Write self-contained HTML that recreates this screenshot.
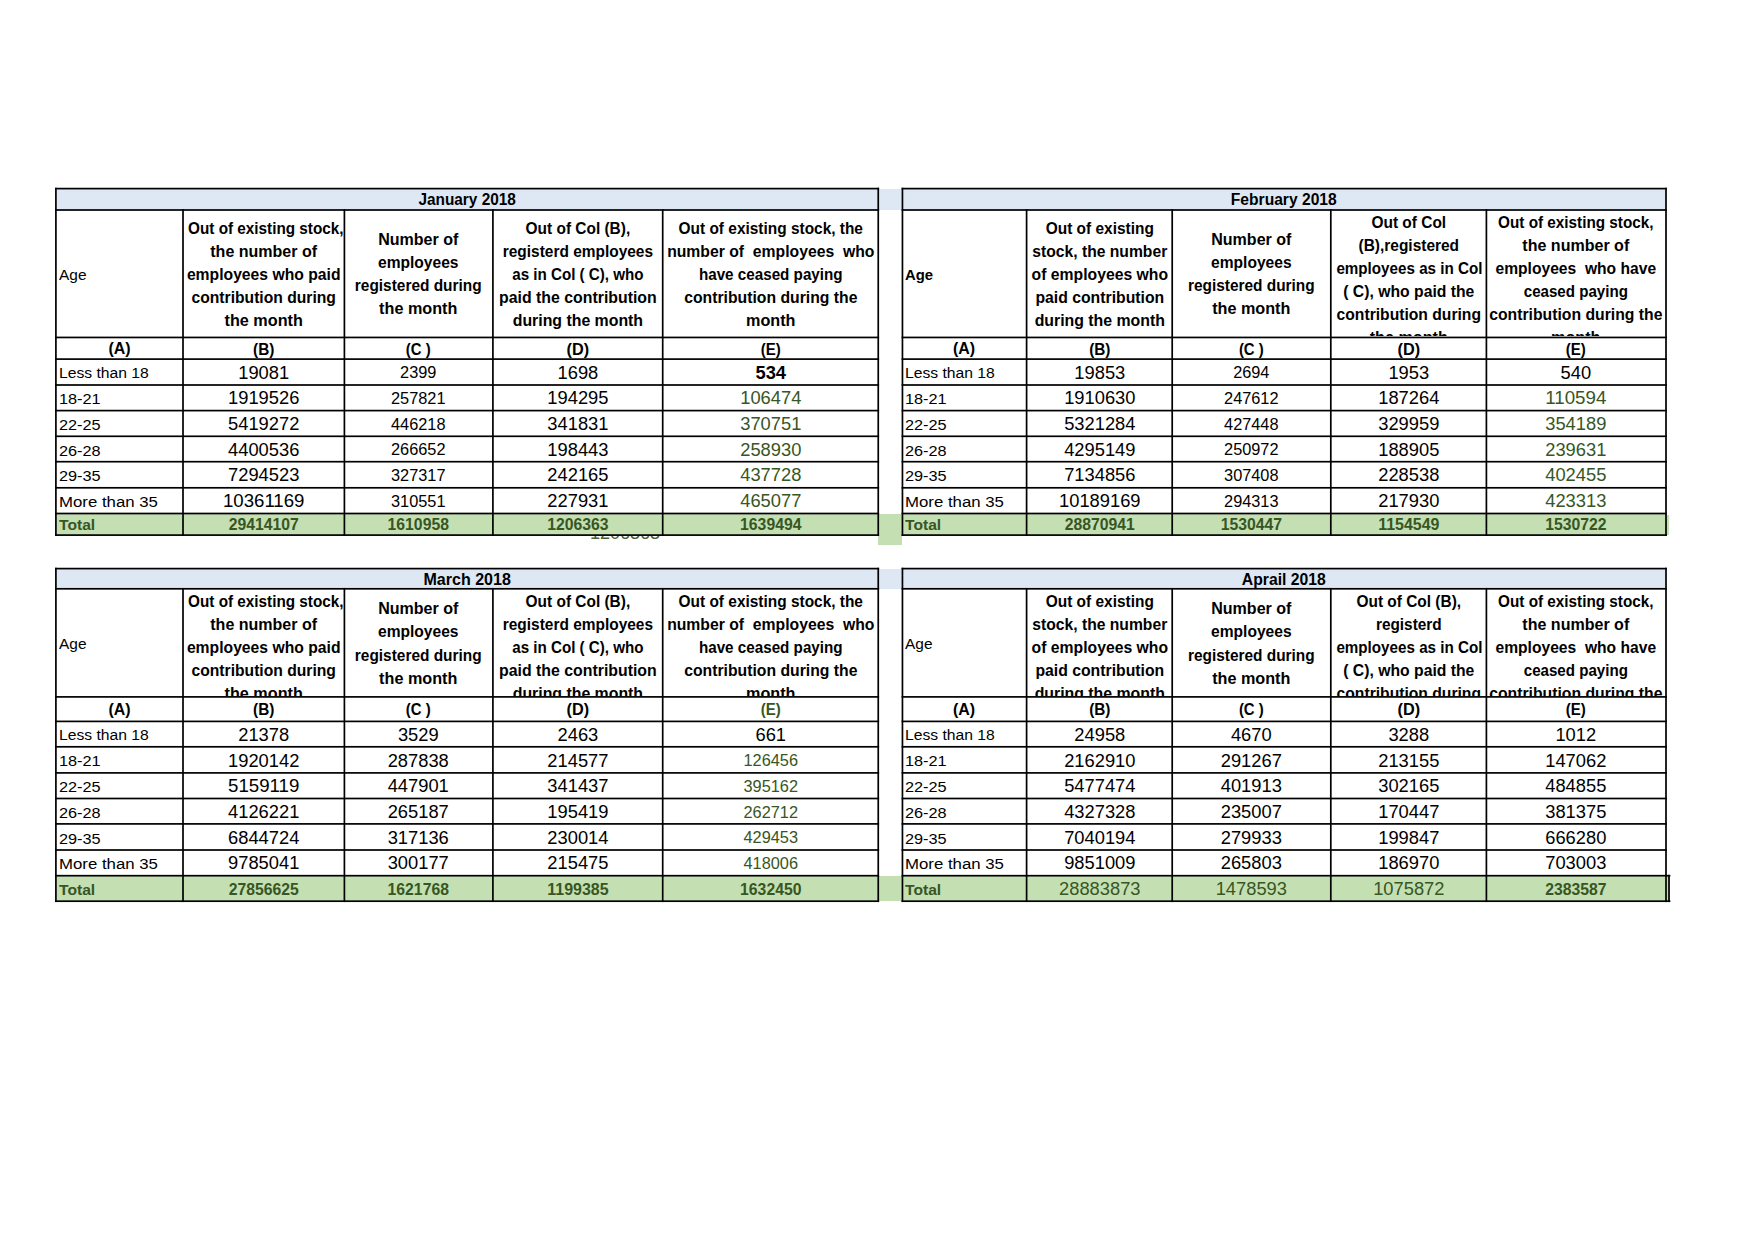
<!DOCTYPE html>
<html><head><meta charset="utf-8"><title>EPF payroll data 2018</title>
<style>
html,body{margin:0;padding:0;background:#fff;}
body{width:1755px;height:1240px;position:relative;overflow:hidden;font-family:"Liberation Sans", Arial, sans-serif;}
.r{position:absolute;}
.t{position:absolute;white-space:nowrap;text-align:center;}
.c{position:absolute;overflow:hidden;z-index:3;}
.g{position:absolute;left:0;top:0;z-index:5;fill:#000;}
</style></head>
<body>
<div class="r" style="left:55.90px;top:188.60px;width:822.35px;height:21.40px;background:#dde8f4;z-index:1"></div>
<div class="r" style="left:55.90px;top:513.50px;width:822.35px;height:21.60px;background:#c4dfb2;z-index:1"></div>
<div class="t" style="left:55.90px;width:822.35px;top:189.00px;font-size:16.02px;font-weight:700;color:#000;line-height:20px;z-index:3;transform:scaleX(0.960);">January 2018</div>
<div class="t" style="left:58.90px;text-align:left;top:265.00px;font-size:15.4px;font-weight:400;color:#000;line-height:20px;z-index:3;transform:scaleX(1.003);transform-origin:0 0;">Age</div>
<div class="c" style="left:184.00px;top:211px;width:159.40px;height:125.45px"><div class="t" style="left:0;width:159.40px;top:7.00px;font-size:16.11px;font-weight:700;color:#000;line-height:20px;transform:scaleX(0.949)">Out of existing stock,</div><div class="t" style="left:0;width:159.40px;top:30.00px;font-size:16.11px;font-weight:700;color:#000;line-height:20px;transform:scaleX(0.995)">the number of</div><div class="t" style="left:0;width:159.40px;top:53.00px;font-size:16.11px;font-weight:700;color:#000;line-height:20px;transform:scaleX(0.975)">employees who paid</div><div class="t" style="left:0;width:159.40px;top:76.00px;font-size:16.11px;font-weight:700;color:#000;line-height:20px;transform:scaleX(0.972)">contribution during</div><div class="t" style="left:0;width:159.40px;top:99.00px;font-size:16.11px;font-weight:700;color:#000;line-height:20px;transform:scaleX(1.005)">the month</div></div>
<div class="c" style="left:345.40px;top:211px;width:146.50px;height:125.45px"><div class="t" style="left:0;width:146.50px;top:18.00px;font-size:16.11px;font-weight:700;color:#000;line-height:20px;transform:scaleX(0.996)">Number of</div><div class="t" style="left:0;width:146.50px;top:41.00px;font-size:16.11px;font-weight:700;color:#000;line-height:20px;transform:scaleX(0.967)">employees</div><div class="t" style="left:0;width:146.50px;top:64.00px;font-size:16.11px;font-weight:700;color:#000;line-height:20px;transform:scaleX(0.957)">registered during</div><div class="t" style="left:0;width:146.50px;top:87.00px;font-size:16.11px;font-weight:700;color:#000;line-height:20px;transform:scaleX(1.005)">the month</div></div>
<div class="c" style="left:493.90px;top:211px;width:167.80px;height:125.45px"><div class="t" style="left:0;width:167.80px;top:7.00px;font-size:16.11px;font-weight:700;color:#000;line-height:20px;transform:scaleX(0.958)">Out of Col (B),</div><div class="t" style="left:0;width:167.80px;top:30.00px;font-size:16.11px;font-weight:700;color:#000;line-height:20px;transform:scaleX(0.959)">registerd employees</div><div class="t" style="left:0;width:167.80px;top:53.00px;font-size:16.11px;font-weight:700;color:#000;line-height:20px;transform:scaleX(0.941)">as in Col ( C), who</div><div class="t" style="left:0;width:167.80px;top:76.00px;font-size:16.11px;font-weight:700;color:#000;line-height:20px;transform:scaleX(0.984)">paid the contribution</div><div class="t" style="left:0;width:167.80px;top:99.00px;font-size:16.11px;font-weight:700;color:#000;line-height:20px;transform:scaleX(0.984)">during the month</div></div>
<div class="c" style="left:663.70px;top:211px;width:213.55px;height:125.45px"><div class="t" style="left:0;width:213.55px;top:7.00px;font-size:16.11px;font-weight:700;color:#000;line-height:20px;transform:scaleX(0.958)">Out of existing stock, the</div><div class="t" style="left:0;width:213.55px;top:30.00px;font-size:16.11px;font-weight:700;color:#000;line-height:20px;transform:scaleX(0.977)">number of&nbsp; employees&nbsp; who</div><div class="t" style="left:0;width:213.55px;top:53.00px;font-size:16.11px;font-weight:700;color:#000;line-height:20px;transform:scaleX(0.944)">have ceased paying</div><div class="t" style="left:0;width:213.55px;top:76.00px;font-size:16.11px;font-weight:700;color:#000;line-height:20px;transform:scaleX(0.978)">contribution during the</div><div class="t" style="left:0;width:213.55px;top:99.00px;font-size:16.11px;font-weight:700;color:#000;line-height:20px;transform:scaleX(1.004)">month</div></div>
<div class="t" style="left:55.90px;width:127.10px;top:339.00px;font-size:15.6px;font-weight:700;color:#000;line-height:20px;z-index:3;transform:scaleX(1.022);">(A)</div>
<div class="t" style="left:183.00px;width:161.40px;top:340.00px;font-size:15.6px;font-weight:700;color:#000;line-height:20px;z-index:3;transform:scaleX(0.984);">(B)</div>
<div class="t" style="left:344.40px;width:148.50px;top:340.00px;font-size:15.6px;font-weight:700;color:#000;line-height:20px;z-index:3;transform:scaleX(0.955);">(C )</div>
<div class="t" style="left:492.90px;width:169.80px;top:340.00px;font-size:15.6px;font-weight:700;color:#000;line-height:20px;z-index:3;transform:scaleX(1.042);">(D)</div>
<div class="t" style="left:662.70px;width:215.55px;top:340.00px;font-size:15.6px;font-weight:700;color:#000;line-height:20px;z-index:3;transform:scaleX(0.962);">(E)</div>
<div class="t" style="left:58.90px;text-align:left;top:363.00px;font-size:15.4px;font-weight:400;color:#000;line-height:20px;z-index:3;transform:scaleX(1.019);transform-origin:0 0;">Less than 18</div>
<div class="t" style="left:183.00px;width:161.40px;top:363.00px;font-size:18.09px;font-weight:400;color:#000;line-height:20px;z-index:3;transform:scaleX(1.013);">19081</div>
<div class="t" style="left:344.40px;width:148.50px;top:363.00px;font-size:15.9px;font-weight:400;color:#000;line-height:20px;z-index:3;transform:scaleX(1.027);">2399</div>
<div class="t" style="left:492.90px;width:169.80px;top:363.00px;font-size:18.09px;font-weight:400;color:#000;line-height:20px;z-index:3;transform:scaleX(1.013);">1698</div>
<div class="t" style="left:662.70px;width:215.55px;top:363.00px;font-size:18.09px;font-weight:700;color:#000;line-height:20px;z-index:3;transform:scaleX(1.013);">534</div>
<div class="t" style="left:58.90px;text-align:left;top:389.00px;font-size:15.4px;font-weight:400;color:#000;line-height:20px;z-index:3;transform:scaleX(1.058);transform-origin:0 0;">18-21</div>
<div class="t" style="left:183.00px;width:161.40px;top:388.00px;font-size:18.09px;font-weight:400;color:#000;line-height:20px;z-index:3;transform:scaleX(1.013);">1919526</div>
<div class="t" style="left:344.40px;width:148.50px;top:389.00px;font-size:15.9px;font-weight:400;color:#000;line-height:20px;z-index:3;transform:scaleX(1.027);">257821</div>
<div class="t" style="left:492.90px;width:169.80px;top:388.00px;font-size:18.09px;font-weight:400;color:#000;line-height:20px;z-index:3;transform:scaleX(1.013);">194295</div>
<div class="t" style="left:662.70px;width:215.55px;top:388.00px;font-size:18.09px;font-weight:400;color:#375623;line-height:20px;z-index:3;transform:scaleX(1.013);">106474</div>
<div class="t" style="left:58.90px;text-align:left;top:415.00px;font-size:15.4px;font-weight:400;color:#000;line-height:20px;z-index:3;transform:scaleX(1.058);transform-origin:0 0;">22-25</div>
<div class="t" style="left:183.00px;width:161.40px;top:414.00px;font-size:18.09px;font-weight:400;color:#000;line-height:20px;z-index:3;transform:scaleX(1.013);">5419272</div>
<div class="t" style="left:344.40px;width:148.50px;top:415.00px;font-size:15.9px;font-weight:400;color:#000;line-height:20px;z-index:3;transform:scaleX(1.027);">446218</div>
<div class="t" style="left:492.90px;width:169.80px;top:414.00px;font-size:18.09px;font-weight:400;color:#000;line-height:20px;z-index:3;transform:scaleX(1.013);">341831</div>
<div class="t" style="left:662.70px;width:215.55px;top:414.00px;font-size:18.09px;font-weight:400;color:#375623;line-height:20px;z-index:3;transform:scaleX(1.013);">370751</div>
<div class="t" style="left:58.90px;text-align:left;top:441.00px;font-size:15.4px;font-weight:400;color:#000;line-height:20px;z-index:3;transform:scaleX(1.058);transform-origin:0 0;">26-28</div>
<div class="t" style="left:183.00px;width:161.40px;top:440.00px;font-size:18.09px;font-weight:400;color:#000;line-height:20px;z-index:3;transform:scaleX(1.013);">4400536</div>
<div class="t" style="left:344.40px;width:148.50px;top:440.00px;font-size:15.9px;font-weight:400;color:#000;line-height:20px;z-index:3;transform:scaleX(1.027);">266652</div>
<div class="t" style="left:492.90px;width:169.80px;top:440.00px;font-size:18.09px;font-weight:400;color:#000;line-height:20px;z-index:3;transform:scaleX(1.013);">198443</div>
<div class="t" style="left:662.70px;width:215.55px;top:440.00px;font-size:18.09px;font-weight:400;color:#375623;line-height:20px;z-index:3;transform:scaleX(1.013);">258930</div>
<div class="t" style="left:58.90px;text-align:left;top:466.00px;font-size:15.4px;font-weight:400;color:#000;line-height:20px;z-index:3;transform:scaleX(1.058);transform-origin:0 0;">29-35</div>
<div class="t" style="left:183.00px;width:161.40px;top:465.00px;font-size:18.09px;font-weight:400;color:#000;line-height:20px;z-index:3;transform:scaleX(1.013);">7294523</div>
<div class="t" style="left:344.40px;width:148.50px;top:466.00px;font-size:15.9px;font-weight:400;color:#000;line-height:20px;z-index:3;transform:scaleX(1.027);">327317</div>
<div class="t" style="left:492.90px;width:169.80px;top:465.00px;font-size:18.09px;font-weight:400;color:#000;line-height:20px;z-index:3;transform:scaleX(1.013);">242165</div>
<div class="t" style="left:662.70px;width:215.55px;top:465.00px;font-size:18.09px;font-weight:400;color:#375623;line-height:20px;z-index:3;transform:scaleX(1.013);">437728</div>
<div class="t" style="left:58.90px;text-align:left;top:492.00px;font-size:15.4px;font-weight:400;color:#000;line-height:20px;z-index:3;transform:scaleX(1.091);transform-origin:0 0;">More than 35</div>
<div class="t" style="left:183.00px;width:161.40px;top:491.00px;font-size:18.09px;font-weight:400;color:#000;line-height:20px;z-index:3;transform:scaleX(1.030);">10361169</div>
<div class="t" style="left:344.40px;width:148.50px;top:492.00px;font-size:15.9px;font-weight:400;color:#000;line-height:20px;z-index:3;transform:scaleX(1.027);">310551</div>
<div class="t" style="left:492.90px;width:169.80px;top:491.00px;font-size:18.09px;font-weight:400;color:#000;line-height:20px;z-index:3;transform:scaleX(1.013);">227931</div>
<div class="t" style="left:662.70px;width:215.55px;top:491.00px;font-size:18.09px;font-weight:400;color:#375623;line-height:20px;z-index:3;transform:scaleX(1.013);">465077</div>
<div class="t" style="left:58.90px;text-align:left;top:515.00px;font-size:15.2px;font-weight:700;color:#375623;line-height:20px;z-index:3;transform:scaleX(1.030);transform-origin:0 0;">Total</div>
<div class="t" style="left:183.00px;width:161.40px;top:515.00px;font-size:15.57px;font-weight:700;color:#375623;line-height:20px;z-index:3;transform:scaleX(1.012);">29414107</div>
<div class="t" style="left:344.40px;width:148.50px;top:515.00px;font-size:15.57px;font-weight:700;color:#375623;line-height:20px;z-index:3;transform:scaleX(1.012);">1610958</div>
<div class="t" style="left:492.90px;width:169.80px;top:515.00px;font-size:15.57px;font-weight:700;color:#375623;line-height:20px;z-index:3;transform:scaleX(1.012);">1206363</div>
<div class="t" style="left:662.70px;width:215.55px;top:515.00px;font-size:15.57px;font-weight:700;color:#375623;line-height:20px;z-index:3;transform:scaleX(1.012);">1639494</div>
<div class="r" style="left:902.45px;top:188.60px;width:763.55px;height:21.40px;background:#dde8f4;z-index:1"></div>
<div class="r" style="left:902.45px;top:513.50px;width:763.55px;height:21.60px;background:#c4dfb2;z-index:1"></div>
<div class="t" style="left:902.45px;width:763.55px;top:189.00px;font-size:16.02px;font-weight:700;color:#000;line-height:20px;z-index:3;transform:scaleX(0.975);">February 2018</div>
<div class="t" style="left:905.45px;text-align:left;top:265.00px;font-size:15.4px;font-weight:700;color:#000;line-height:20px;z-index:3;transform:scaleX(0.966);transform-origin:0 0;">Age</div>
<div class="c" style="left:1027.60px;top:211px;width:143.60px;height:125.45px"><div class="t" style="left:0;width:143.60px;top:7.00px;font-size:16.11px;font-weight:700;color:#000;line-height:20px;transform:scaleX(0.959)">Out of existing</div><div class="t" style="left:0;width:143.60px;top:30.00px;font-size:16.11px;font-weight:700;color:#000;line-height:20px;transform:scaleX(0.972)">stock, the number</div><div class="t" style="left:0;width:143.60px;top:53.00px;font-size:16.11px;font-weight:700;color:#000;line-height:20px;transform:scaleX(0.977)">of employees who</div><div class="t" style="left:0;width:143.60px;top:76.00px;font-size:16.11px;font-weight:700;color:#000;line-height:20px;transform:scaleX(0.979)">paid contribution</div><div class="t" style="left:0;width:143.60px;top:99.00px;font-size:16.11px;font-weight:700;color:#000;line-height:20px;transform:scaleX(0.984)">during the month</div></div>
<div class="c" style="left:1173.20px;top:211px;width:156.60px;height:125.45px"><div class="t" style="left:0;width:156.60px;top:18.00px;font-size:16.11px;font-weight:700;color:#000;line-height:20px;transform:scaleX(0.996)">Number of</div><div class="t" style="left:0;width:156.60px;top:41.00px;font-size:16.11px;font-weight:700;color:#000;line-height:20px;transform:scaleX(0.967)">employees</div><div class="t" style="left:0;width:156.60px;top:64.00px;font-size:16.11px;font-weight:700;color:#000;line-height:20px;transform:scaleX(0.957)">registered during</div><div class="t" style="left:0;width:156.60px;top:87.00px;font-size:16.11px;font-weight:700;color:#000;line-height:20px;transform:scaleX(1.005)">the month</div></div>
<div class="c" style="left:1331.80px;top:211px;width:153.60px;height:125.45px"><div class="t" style="left:0;width:153.60px;top:1.00px;font-size:16.11px;font-weight:700;color:#000;line-height:20px;transform:scaleX(0.960)">Out of Col</div><div class="t" style="left:0;width:153.60px;top:24.00px;font-size:16.11px;font-weight:700;color:#000;line-height:20px;transform:scaleX(0.960)">(B),registered</div><div class="t" style="left:0;width:153.60px;top:47.00px;font-size:16.11px;font-weight:700;color:#000;line-height:20px;transform:scaleX(0.943)">employees as in Col</div><div class="t" style="left:0;width:153.60px;top:70.00px;font-size:16.11px;font-weight:700;color:#000;line-height:20px;transform:scaleX(0.977)">( C), who paid the</div><div class="t" style="left:0;width:153.60px;top:93.00px;font-size:16.11px;font-weight:700;color:#000;line-height:20px;transform:scaleX(0.972)">contribution during</div><div class="t" style="left:0;width:153.60px;top:116.00px;font-size:16.11px;font-weight:700;color:#000;line-height:20px;transform:scaleX(1.005)">the month</div></div>
<div class="c" style="left:1487.40px;top:211px;width:177.60px;height:125.45px"><div class="t" style="left:0;width:177.60px;top:1.00px;font-size:16.11px;font-weight:700;color:#000;line-height:20px;transform:scaleX(0.949)">Out of existing stock,</div><div class="t" style="left:0;width:177.60px;top:24.00px;font-size:16.11px;font-weight:700;color:#000;line-height:20px;transform:scaleX(0.995)">the number of</div><div class="t" style="left:0;width:177.60px;top:47.00px;font-size:16.11px;font-weight:700;color:#000;line-height:20px;transform:scaleX(0.970)">employees&nbsp; who have</div><div class="t" style="left:0;width:177.60px;top:70.00px;font-size:16.11px;font-weight:700;color:#000;line-height:20px;transform:scaleX(0.938)">ceased paying</div><div class="t" style="left:0;width:177.60px;top:93.00px;font-size:16.11px;font-weight:700;color:#000;line-height:20px;transform:scaleX(0.978)">contribution during the</div><div class="t" style="left:0;width:177.60px;top:116.00px;font-size:16.11px;font-weight:700;color:#000;line-height:20px;transform:scaleX(1.004)">month</div></div>
<div class="t" style="left:902.45px;width:124.15px;top:339.00px;font-size:15.6px;font-weight:700;color:#000;line-height:20px;z-index:3;transform:scaleX(1.022);">(A)</div>
<div class="t" style="left:1026.60px;width:145.60px;top:340.00px;font-size:15.6px;font-weight:700;color:#000;line-height:20px;z-index:3;transform:scaleX(0.984);">(B)</div>
<div class="t" style="left:1172.20px;width:158.60px;top:340.00px;font-size:15.6px;font-weight:700;color:#000;line-height:20px;z-index:3;transform:scaleX(0.955);">(C )</div>
<div class="t" style="left:1330.80px;width:155.60px;top:340.00px;font-size:15.6px;font-weight:700;color:#000;line-height:20px;z-index:3;transform:scaleX(1.042);">(D)</div>
<div class="t" style="left:1486.40px;width:179.60px;top:340.00px;font-size:15.6px;font-weight:700;color:#000;line-height:20px;z-index:3;transform:scaleX(0.962);">(E)</div>
<div class="t" style="left:905.45px;text-align:left;top:363.00px;font-size:15.4px;font-weight:400;color:#000;line-height:20px;z-index:3;transform:scaleX(1.019);transform-origin:0 0;">Less than 18</div>
<div class="t" style="left:1026.60px;width:145.60px;top:363.00px;font-size:18.09px;font-weight:400;color:#000;line-height:20px;z-index:3;transform:scaleX(1.013);">19853</div>
<div class="t" style="left:1172.20px;width:158.60px;top:363.00px;font-size:15.9px;font-weight:400;color:#000;line-height:20px;z-index:3;transform:scaleX(1.027);">2694</div>
<div class="t" style="left:1330.80px;width:155.60px;top:363.00px;font-size:18.09px;font-weight:400;color:#000;line-height:20px;z-index:3;transform:scaleX(1.013);">1953</div>
<div class="t" style="left:1486.40px;width:179.60px;top:363.00px;font-size:18.09px;font-weight:400;color:#000;line-height:20px;z-index:3;transform:scaleX(1.013);">540</div>
<div class="t" style="left:905.45px;text-align:left;top:389.00px;font-size:15.4px;font-weight:400;color:#000;line-height:20px;z-index:3;transform:scaleX(1.058);transform-origin:0 0;">18-21</div>
<div class="t" style="left:1026.60px;width:145.60px;top:388.00px;font-size:18.09px;font-weight:400;color:#000;line-height:20px;z-index:3;transform:scaleX(1.013);">1910630</div>
<div class="t" style="left:1172.20px;width:158.60px;top:389.00px;font-size:15.9px;font-weight:400;color:#000;line-height:20px;z-index:3;transform:scaleX(1.027);">247612</div>
<div class="t" style="left:1330.80px;width:155.60px;top:388.00px;font-size:18.09px;font-weight:400;color:#000;line-height:20px;z-index:3;transform:scaleX(1.013);">187264</div>
<div class="t" style="left:1486.40px;width:179.60px;top:388.00px;font-size:18.09px;font-weight:400;color:#375623;line-height:20px;z-index:3;transform:scaleX(1.036);">110594</div>
<div class="t" style="left:905.45px;text-align:left;top:415.00px;font-size:15.4px;font-weight:400;color:#000;line-height:20px;z-index:3;transform:scaleX(1.058);transform-origin:0 0;">22-25</div>
<div class="t" style="left:1026.60px;width:145.60px;top:414.00px;font-size:18.09px;font-weight:400;color:#000;line-height:20px;z-index:3;transform:scaleX(1.013);">5321284</div>
<div class="t" style="left:1172.20px;width:158.60px;top:415.00px;font-size:15.9px;font-weight:400;color:#000;line-height:20px;z-index:3;transform:scaleX(1.027);">427448</div>
<div class="t" style="left:1330.80px;width:155.60px;top:414.00px;font-size:18.09px;font-weight:400;color:#000;line-height:20px;z-index:3;transform:scaleX(1.013);">329959</div>
<div class="t" style="left:1486.40px;width:179.60px;top:414.00px;font-size:18.09px;font-weight:400;color:#375623;line-height:20px;z-index:3;transform:scaleX(1.013);">354189</div>
<div class="t" style="left:905.45px;text-align:left;top:441.00px;font-size:15.4px;font-weight:400;color:#000;line-height:20px;z-index:3;transform:scaleX(1.058);transform-origin:0 0;">26-28</div>
<div class="t" style="left:1026.60px;width:145.60px;top:440.00px;font-size:18.09px;font-weight:400;color:#000;line-height:20px;z-index:3;transform:scaleX(1.013);">4295149</div>
<div class="t" style="left:1172.20px;width:158.60px;top:440.00px;font-size:15.9px;font-weight:400;color:#000;line-height:20px;z-index:3;transform:scaleX(1.027);">250972</div>
<div class="t" style="left:1330.80px;width:155.60px;top:440.00px;font-size:18.09px;font-weight:400;color:#000;line-height:20px;z-index:3;transform:scaleX(1.013);">188905</div>
<div class="t" style="left:1486.40px;width:179.60px;top:440.00px;font-size:18.09px;font-weight:400;color:#375623;line-height:20px;z-index:3;transform:scaleX(1.013);">239631</div>
<div class="t" style="left:905.45px;text-align:left;top:466.00px;font-size:15.4px;font-weight:400;color:#000;line-height:20px;z-index:3;transform:scaleX(1.058);transform-origin:0 0;">29-35</div>
<div class="t" style="left:1026.60px;width:145.60px;top:465.00px;font-size:18.09px;font-weight:400;color:#000;line-height:20px;z-index:3;transform:scaleX(1.013);">7134856</div>
<div class="t" style="left:1172.20px;width:158.60px;top:466.00px;font-size:15.9px;font-weight:400;color:#000;line-height:20px;z-index:3;transform:scaleX(1.027);">307408</div>
<div class="t" style="left:1330.80px;width:155.60px;top:465.00px;font-size:18.09px;font-weight:400;color:#000;line-height:20px;z-index:3;transform:scaleX(1.013);">228538</div>
<div class="t" style="left:1486.40px;width:179.60px;top:465.00px;font-size:18.09px;font-weight:400;color:#375623;line-height:20px;z-index:3;transform:scaleX(1.013);">402455</div>
<div class="t" style="left:905.45px;text-align:left;top:492.00px;font-size:15.4px;font-weight:400;color:#000;line-height:20px;z-index:3;transform:scaleX(1.091);transform-origin:0 0;">More than 35</div>
<div class="t" style="left:1026.60px;width:145.60px;top:491.00px;font-size:18.09px;font-weight:400;color:#000;line-height:20px;z-index:3;transform:scaleX(1.013);">10189169</div>
<div class="t" style="left:1172.20px;width:158.60px;top:492.00px;font-size:15.9px;font-weight:400;color:#000;line-height:20px;z-index:3;transform:scaleX(1.027);">294313</div>
<div class="t" style="left:1330.80px;width:155.60px;top:491.00px;font-size:18.09px;font-weight:400;color:#000;line-height:20px;z-index:3;transform:scaleX(1.013);">217930</div>
<div class="t" style="left:1486.40px;width:179.60px;top:491.00px;font-size:18.09px;font-weight:400;color:#375623;line-height:20px;z-index:3;transform:scaleX(1.013);">423313</div>
<div class="t" style="left:905.45px;text-align:left;top:515.00px;font-size:15.2px;font-weight:700;color:#375623;line-height:20px;z-index:3;transform:scaleX(1.030);transform-origin:0 0;">Total</div>
<div class="t" style="left:1026.60px;width:145.60px;top:515.00px;font-size:15.57px;font-weight:700;color:#375623;line-height:20px;z-index:3;transform:scaleX(1.012);">28870941</div>
<div class="t" style="left:1172.20px;width:158.60px;top:515.00px;font-size:15.57px;font-weight:700;color:#375623;line-height:20px;z-index:3;transform:scaleX(1.012);">1530447</div>
<div class="t" style="left:1330.80px;width:155.60px;top:515.00px;font-size:15.57px;font-weight:700;color:#375623;line-height:20px;z-index:3;transform:scaleX(1.026);">1154549</div>
<div class="t" style="left:1486.40px;width:179.60px;top:515.00px;font-size:15.57px;font-weight:700;color:#375623;line-height:20px;z-index:3;transform:scaleX(1.012);">1530722</div>
<div class="r" style="left:55.90px;top:568.60px;width:822.35px;height:20.20px;background:#dde8f4;z-index:1"></div>
<div class="r" style="left:55.90px;top:875.70px;width:822.35px;height:25.50px;background:#c4dfb2;z-index:1"></div>
<div class="t" style="left:55.90px;width:822.35px;top:569.00px;font-size:16.02px;font-weight:700;color:#000;line-height:20px;z-index:3;transform:scaleX(1.002);">March 2018</div>
<div class="t" style="left:58.90px;text-align:left;top:634.00px;font-size:15.4px;font-weight:400;color:#000;line-height:20px;z-index:3;transform:scaleX(1.003);transform-origin:0 0;">Age</div>
<div class="c" style="left:184.00px;top:590px;width:159.40px;height:106.10px"><div class="t" style="left:0;width:159.40px;top:1.00px;font-size:16.11px;font-weight:700;color:#000;line-height:20px;transform:scaleX(0.949)">Out of existing stock,</div><div class="t" style="left:0;width:159.40px;top:24.00px;font-size:16.11px;font-weight:700;color:#000;line-height:20px;transform:scaleX(0.995)">the number of</div><div class="t" style="left:0;width:159.40px;top:47.00px;font-size:16.11px;font-weight:700;color:#000;line-height:20px;transform:scaleX(0.975)">employees who paid</div><div class="t" style="left:0;width:159.40px;top:70.00px;font-size:16.11px;font-weight:700;color:#000;line-height:20px;transform:scaleX(0.972)">contribution during</div><div class="t" style="left:0;width:159.40px;top:93.00px;font-size:16.11px;font-weight:700;color:#000;line-height:20px;transform:scaleX(1.005)">the month</div></div>
<div class="c" style="left:345.40px;top:590px;width:146.50px;height:106.10px"><div class="t" style="left:0;width:146.50px;top:8.00px;font-size:16.11px;font-weight:700;color:#000;line-height:20px;transform:scaleX(0.996)">Number of</div><div class="t" style="left:0;width:146.50px;top:31.00px;font-size:16.11px;font-weight:700;color:#000;line-height:20px;transform:scaleX(0.967)">employees</div><div class="t" style="left:0;width:146.50px;top:55.00px;font-size:16.11px;font-weight:700;color:#000;line-height:20px;transform:scaleX(0.957)">registered during</div><div class="t" style="left:0;width:146.50px;top:78.00px;font-size:16.11px;font-weight:700;color:#000;line-height:20px;transform:scaleX(1.005)">the month</div></div>
<div class="c" style="left:493.90px;top:590px;width:167.80px;height:106.10px"><div class="t" style="left:0;width:167.80px;top:1.00px;font-size:16.11px;font-weight:700;color:#000;line-height:20px;transform:scaleX(0.958)">Out of Col (B),</div><div class="t" style="left:0;width:167.80px;top:24.00px;font-size:16.11px;font-weight:700;color:#000;line-height:20px;transform:scaleX(0.959)">registerd employees</div><div class="t" style="left:0;width:167.80px;top:47.00px;font-size:16.11px;font-weight:700;color:#000;line-height:20px;transform:scaleX(0.941)">as in Col ( C), who</div><div class="t" style="left:0;width:167.80px;top:70.00px;font-size:16.11px;font-weight:700;color:#000;line-height:20px;transform:scaleX(0.984)">paid the contribution</div><div class="t" style="left:0;width:167.80px;top:93.00px;font-size:16.11px;font-weight:700;color:#000;line-height:20px;transform:scaleX(0.984)">during the month</div></div>
<div class="c" style="left:663.70px;top:590px;width:213.55px;height:106.10px"><div class="t" style="left:0;width:213.55px;top:1.00px;font-size:16.11px;font-weight:700;color:#000;line-height:20px;transform:scaleX(0.958)">Out of existing stock, the</div><div class="t" style="left:0;width:213.55px;top:24.00px;font-size:16.11px;font-weight:700;color:#000;line-height:20px;transform:scaleX(0.977)">number of&nbsp; employees&nbsp; who</div><div class="t" style="left:0;width:213.55px;top:47.00px;font-size:16.11px;font-weight:700;color:#000;line-height:20px;transform:scaleX(0.944)">have ceased paying</div><div class="t" style="left:0;width:213.55px;top:70.00px;font-size:16.11px;font-weight:700;color:#000;line-height:20px;transform:scaleX(0.978)">contribution during the</div><div class="t" style="left:0;width:213.55px;top:93.00px;font-size:16.11px;font-weight:700;color:#000;line-height:20px;transform:scaleX(1.004)">month</div></div>
<div class="t" style="left:55.90px;width:127.10px;top:700.00px;font-size:15.6px;font-weight:700;color:#000;line-height:20px;z-index:3;transform:scaleX(1.022);">(A)</div>
<div class="t" style="left:183.00px;width:161.40px;top:700.00px;font-size:15.6px;font-weight:700;color:#000;line-height:20px;z-index:3;transform:scaleX(0.984);">(B)</div>
<div class="t" style="left:344.40px;width:148.50px;top:700.00px;font-size:15.6px;font-weight:700;color:#000;line-height:20px;z-index:3;transform:scaleX(0.955);">(C )</div>
<div class="t" style="left:492.90px;width:169.80px;top:700.00px;font-size:15.6px;font-weight:700;color:#000;line-height:20px;z-index:3;transform:scaleX(1.042);">(D)</div>
<div class="t" style="left:662.70px;width:215.55px;top:700.00px;font-size:15.6px;font-weight:700;color:#375623;line-height:20px;z-index:3;transform:scaleX(0.962);">(E)</div>
<div class="t" style="left:58.90px;text-align:left;top:725.00px;font-size:15.4px;font-weight:400;color:#000;line-height:20px;z-index:3;transform:scaleX(1.019);transform-origin:0 0;">Less than 18</div>
<div class="t" style="left:183.00px;width:161.40px;top:725.00px;font-size:18.09px;font-weight:400;color:#000;line-height:20px;z-index:3;transform:scaleX(1.013);">21378</div>
<div class="t" style="left:344.40px;width:148.50px;top:725.00px;font-size:18.09px;font-weight:400;color:#000;line-height:20px;z-index:3;transform:scaleX(1.013);">3529</div>
<div class="t" style="left:492.90px;width:169.80px;top:725.00px;font-size:18.09px;font-weight:400;color:#000;line-height:20px;z-index:3;transform:scaleX(1.013);">2463</div>
<div class="t" style="left:662.70px;width:215.55px;top:725.00px;font-size:18.09px;font-weight:400;color:#000;line-height:20px;z-index:3;transform:scaleX(1.013);">661</div>
<div class="t" style="left:58.90px;text-align:left;top:751.00px;font-size:15.4px;font-weight:400;color:#000;line-height:20px;z-index:3;transform:scaleX(1.058);transform-origin:0 0;">18-21</div>
<div class="t" style="left:183.00px;width:161.40px;top:751.00px;font-size:18.09px;font-weight:400;color:#000;line-height:20px;z-index:3;transform:scaleX(1.013);">1920142</div>
<div class="t" style="left:344.40px;width:148.50px;top:751.00px;font-size:18.09px;font-weight:400;color:#000;line-height:20px;z-index:3;transform:scaleX(1.013);">287838</div>
<div class="t" style="left:492.90px;width:169.80px;top:751.00px;font-size:18.09px;font-weight:400;color:#000;line-height:20px;z-index:3;transform:scaleX(1.013);">214577</div>
<div class="t" style="left:662.70px;width:215.55px;top:751.00px;font-size:15.9px;font-weight:400;color:#375623;line-height:20px;z-index:3;transform:scaleX(1.027);">126456</div>
<div class="t" style="left:58.90px;text-align:left;top:777.00px;font-size:15.4px;font-weight:400;color:#000;line-height:20px;z-index:3;transform:scaleX(1.058);transform-origin:0 0;">22-25</div>
<div class="t" style="left:183.00px;width:161.40px;top:776.00px;font-size:18.09px;font-weight:400;color:#000;line-height:20px;z-index:3;transform:scaleX(1.033);">5159119</div>
<div class="t" style="left:344.40px;width:148.50px;top:776.00px;font-size:18.09px;font-weight:400;color:#000;line-height:20px;z-index:3;transform:scaleX(1.013);">447901</div>
<div class="t" style="left:492.90px;width:169.80px;top:776.00px;font-size:18.09px;font-weight:400;color:#000;line-height:20px;z-index:3;transform:scaleX(1.013);">341437</div>
<div class="t" style="left:662.70px;width:215.55px;top:777.00px;font-size:15.9px;font-weight:400;color:#375623;line-height:20px;z-index:3;transform:scaleX(1.027);">395162</div>
<div class="t" style="left:58.90px;text-align:left;top:803.00px;font-size:15.4px;font-weight:400;color:#000;line-height:20px;z-index:3;transform:scaleX(1.058);transform-origin:0 0;">26-28</div>
<div class="t" style="left:183.00px;width:161.40px;top:802.00px;font-size:18.09px;font-weight:400;color:#000;line-height:20px;z-index:3;transform:scaleX(1.013);">4126221</div>
<div class="t" style="left:344.40px;width:148.50px;top:802.00px;font-size:18.09px;font-weight:400;color:#000;line-height:20px;z-index:3;transform:scaleX(1.013);">265187</div>
<div class="t" style="left:492.90px;width:169.80px;top:802.00px;font-size:18.09px;font-weight:400;color:#000;line-height:20px;z-index:3;transform:scaleX(1.013);">195419</div>
<div class="t" style="left:662.70px;width:215.55px;top:803.00px;font-size:15.9px;font-weight:400;color:#375623;line-height:20px;z-index:3;transform:scaleX(1.027);">262712</div>
<div class="t" style="left:58.90px;text-align:left;top:829.00px;font-size:15.4px;font-weight:400;color:#000;line-height:20px;z-index:3;transform:scaleX(1.058);transform-origin:0 0;">29-35</div>
<div class="t" style="left:183.00px;width:161.40px;top:828.00px;font-size:18.09px;font-weight:400;color:#000;line-height:20px;z-index:3;transform:scaleX(1.013);">6844724</div>
<div class="t" style="left:344.40px;width:148.50px;top:828.00px;font-size:18.09px;font-weight:400;color:#000;line-height:20px;z-index:3;transform:scaleX(1.013);">317136</div>
<div class="t" style="left:492.90px;width:169.80px;top:828.00px;font-size:18.09px;font-weight:400;color:#000;line-height:20px;z-index:3;transform:scaleX(1.013);">230014</div>
<div class="t" style="left:662.70px;width:215.55px;top:828.00px;font-size:15.9px;font-weight:400;color:#375623;line-height:20px;z-index:3;transform:scaleX(1.027);">429453</div>
<div class="t" style="left:58.90px;text-align:left;top:854.00px;font-size:15.4px;font-weight:400;color:#000;line-height:20px;z-index:3;transform:scaleX(1.091);transform-origin:0 0;">More than 35</div>
<div class="t" style="left:183.00px;width:161.40px;top:853.00px;font-size:18.09px;font-weight:400;color:#000;line-height:20px;z-index:3;transform:scaleX(1.013);">9785041</div>
<div class="t" style="left:344.40px;width:148.50px;top:853.00px;font-size:18.09px;font-weight:400;color:#000;line-height:20px;z-index:3;transform:scaleX(1.013);">300177</div>
<div class="t" style="left:492.90px;width:169.80px;top:853.00px;font-size:18.09px;font-weight:400;color:#000;line-height:20px;z-index:3;transform:scaleX(1.013);">215475</div>
<div class="t" style="left:662.70px;width:215.55px;top:854.00px;font-size:15.9px;font-weight:400;color:#375623;line-height:20px;z-index:3;transform:scaleX(1.027);">418006</div>
<div class="t" style="left:58.90px;text-align:left;top:880.00px;font-size:15.2px;font-weight:700;color:#375623;line-height:20px;z-index:3;transform:scaleX(1.030);transform-origin:0 0;">Total</div>
<div class="t" style="left:183.00px;width:161.40px;top:880.00px;font-size:15.57px;font-weight:700;color:#375623;line-height:20px;z-index:3;transform:scaleX(1.012);">27856625</div>
<div class="t" style="left:344.40px;width:148.50px;top:880.00px;font-size:15.57px;font-weight:700;color:#375623;line-height:20px;z-index:3;transform:scaleX(1.012);">1621768</div>
<div class="t" style="left:492.90px;width:169.80px;top:880.00px;font-size:15.57px;font-weight:700;color:#375623;line-height:20px;z-index:3;transform:scaleX(1.026);">1199385</div>
<div class="t" style="left:662.70px;width:215.55px;top:880.00px;font-size:15.57px;font-weight:700;color:#375623;line-height:20px;z-index:3;transform:scaleX(1.012);">1632450</div>
<div class="r" style="left:902.45px;top:568.60px;width:763.55px;height:20.20px;background:#dde8f4;z-index:1"></div>
<div class="r" style="left:902.45px;top:875.70px;width:763.55px;height:25.50px;background:#c4dfb2;z-index:1"></div>
<div class="t" style="left:902.45px;width:763.55px;top:569.00px;font-size:16.02px;font-weight:700;color:#000;line-height:20px;z-index:3;transform:scaleX(0.981);">Aprail 2018</div>
<div class="t" style="left:905.45px;text-align:left;top:634.00px;font-size:15.4px;font-weight:400;color:#000;line-height:20px;z-index:3;transform:scaleX(1.003);transform-origin:0 0;">Age</div>
<div class="c" style="left:1027.60px;top:590px;width:143.60px;height:106.10px"><div class="t" style="left:0;width:143.60px;top:1.00px;font-size:16.11px;font-weight:700;color:#000;line-height:20px;transform:scaleX(0.959)">Out of existing</div><div class="t" style="left:0;width:143.60px;top:24.00px;font-size:16.11px;font-weight:700;color:#000;line-height:20px;transform:scaleX(0.972)">stock, the number</div><div class="t" style="left:0;width:143.60px;top:47.00px;font-size:16.11px;font-weight:700;color:#000;line-height:20px;transform:scaleX(0.977)">of employees who</div><div class="t" style="left:0;width:143.60px;top:70.00px;font-size:16.11px;font-weight:700;color:#000;line-height:20px;transform:scaleX(0.979)">paid contribution</div><div class="t" style="left:0;width:143.60px;top:93.00px;font-size:16.11px;font-weight:700;color:#000;line-height:20px;transform:scaleX(0.984)">during the month</div></div>
<div class="c" style="left:1173.20px;top:590px;width:156.60px;height:106.10px"><div class="t" style="left:0;width:156.60px;top:8.00px;font-size:16.11px;font-weight:700;color:#000;line-height:20px;transform:scaleX(0.996)">Number of</div><div class="t" style="left:0;width:156.60px;top:31.00px;font-size:16.11px;font-weight:700;color:#000;line-height:20px;transform:scaleX(0.967)">employees</div><div class="t" style="left:0;width:156.60px;top:55.00px;font-size:16.11px;font-weight:700;color:#000;line-height:20px;transform:scaleX(0.957)">registered during</div><div class="t" style="left:0;width:156.60px;top:78.00px;font-size:16.11px;font-weight:700;color:#000;line-height:20px;transform:scaleX(1.005)">the month</div></div>
<div class="c" style="left:1331.80px;top:590px;width:153.60px;height:106.10px"><div class="t" style="left:0;width:153.60px;top:1.00px;font-size:16.11px;font-weight:700;color:#000;line-height:20px;transform:scaleX(0.958)">Out of Col (B),</div><div class="t" style="left:0;width:153.60px;top:24.00px;font-size:16.11px;font-weight:700;color:#000;line-height:20px;transform:scaleX(0.953)">registerd</div><div class="t" style="left:0;width:153.60px;top:47.00px;font-size:16.11px;font-weight:700;color:#000;line-height:20px;transform:scaleX(0.943)">employees as in Col</div><div class="t" style="left:0;width:153.60px;top:70.00px;font-size:16.11px;font-weight:700;color:#000;line-height:20px;transform:scaleX(0.977)">( C), who paid the</div><div class="t" style="left:0;width:153.60px;top:93.00px;font-size:16.11px;font-weight:700;color:#000;line-height:20px;transform:scaleX(0.972)">contribution during</div><div class="t" style="left:0;width:153.60px;top:116.00px;font-size:16.11px;font-weight:700;color:#000;line-height:20px;transform:scaleX(1.005)">the month</div></div>
<div class="c" style="left:1487.40px;top:590px;width:177.60px;height:106.10px"><div class="t" style="left:0;width:177.60px;top:1.00px;font-size:16.11px;font-weight:700;color:#000;line-height:20px;transform:scaleX(0.949)">Out of existing stock,</div><div class="t" style="left:0;width:177.60px;top:24.00px;font-size:16.11px;font-weight:700;color:#000;line-height:20px;transform:scaleX(0.995)">the number of</div><div class="t" style="left:0;width:177.60px;top:47.00px;font-size:16.11px;font-weight:700;color:#000;line-height:20px;transform:scaleX(0.970)">employees&nbsp; who have</div><div class="t" style="left:0;width:177.60px;top:70.00px;font-size:16.11px;font-weight:700;color:#000;line-height:20px;transform:scaleX(0.938)">ceased paying</div><div class="t" style="left:0;width:177.60px;top:93.00px;font-size:16.11px;font-weight:700;color:#000;line-height:20px;transform:scaleX(0.978)">contribution during the</div><div class="t" style="left:0;width:177.60px;top:116.00px;font-size:16.11px;font-weight:700;color:#000;line-height:20px;transform:scaleX(1.004)">month</div></div>
<div class="t" style="left:902.45px;width:124.15px;top:700.00px;font-size:15.6px;font-weight:700;color:#000;line-height:20px;z-index:3;transform:scaleX(1.022);">(A)</div>
<div class="t" style="left:1026.60px;width:145.60px;top:700.00px;font-size:15.6px;font-weight:700;color:#000;line-height:20px;z-index:3;transform:scaleX(0.984);">(B)</div>
<div class="t" style="left:1172.20px;width:158.60px;top:700.00px;font-size:15.6px;font-weight:700;color:#000;line-height:20px;z-index:3;transform:scaleX(0.955);">(C )</div>
<div class="t" style="left:1330.80px;width:155.60px;top:700.00px;font-size:15.6px;font-weight:700;color:#000;line-height:20px;z-index:3;transform:scaleX(1.042);">(D)</div>
<div class="t" style="left:1486.40px;width:179.60px;top:700.00px;font-size:15.6px;font-weight:700;color:#000;line-height:20px;z-index:3;transform:scaleX(0.962);">(E)</div>
<div class="t" style="left:905.45px;text-align:left;top:725.00px;font-size:15.4px;font-weight:400;color:#000;line-height:20px;z-index:3;transform:scaleX(1.019);transform-origin:0 0;">Less than 18</div>
<div class="t" style="left:1026.60px;width:145.60px;top:725.00px;font-size:18.09px;font-weight:400;color:#000;line-height:20px;z-index:3;transform:scaleX(1.013);">24958</div>
<div class="t" style="left:1172.20px;width:158.60px;top:725.00px;font-size:18.09px;font-weight:400;color:#000;line-height:20px;z-index:3;transform:scaleX(1.013);">4670</div>
<div class="t" style="left:1330.80px;width:155.60px;top:725.00px;font-size:18.09px;font-weight:400;color:#000;line-height:20px;z-index:3;transform:scaleX(1.013);">3288</div>
<div class="t" style="left:1486.40px;width:179.60px;top:725.00px;font-size:18.09px;font-weight:400;color:#000;line-height:20px;z-index:3;transform:scaleX(1.013);">1012</div>
<div class="t" style="left:905.45px;text-align:left;top:751.00px;font-size:15.4px;font-weight:400;color:#000;line-height:20px;z-index:3;transform:scaleX(1.058);transform-origin:0 0;">18-21</div>
<div class="t" style="left:1026.60px;width:145.60px;top:751.00px;font-size:18.09px;font-weight:400;color:#000;line-height:20px;z-index:3;transform:scaleX(1.013);">2162910</div>
<div class="t" style="left:1172.20px;width:158.60px;top:751.00px;font-size:18.09px;font-weight:400;color:#000;line-height:20px;z-index:3;transform:scaleX(1.013);">291267</div>
<div class="t" style="left:1330.80px;width:155.60px;top:751.00px;font-size:18.09px;font-weight:400;color:#000;line-height:20px;z-index:3;transform:scaleX(1.013);">213155</div>
<div class="t" style="left:1486.40px;width:179.60px;top:751.00px;font-size:18.09px;font-weight:400;color:#000;line-height:20px;z-index:3;transform:scaleX(1.013);">147062</div>
<div class="t" style="left:905.45px;text-align:left;top:777.00px;font-size:15.4px;font-weight:400;color:#000;line-height:20px;z-index:3;transform:scaleX(1.058);transform-origin:0 0;">22-25</div>
<div class="t" style="left:1026.60px;width:145.60px;top:776.00px;font-size:18.09px;font-weight:400;color:#000;line-height:20px;z-index:3;transform:scaleX(1.013);">5477474</div>
<div class="t" style="left:1172.20px;width:158.60px;top:776.00px;font-size:18.09px;font-weight:400;color:#000;line-height:20px;z-index:3;transform:scaleX(1.013);">401913</div>
<div class="t" style="left:1330.80px;width:155.60px;top:776.00px;font-size:18.09px;font-weight:400;color:#000;line-height:20px;z-index:3;transform:scaleX(1.013);">302165</div>
<div class="t" style="left:1486.40px;width:179.60px;top:776.00px;font-size:18.09px;font-weight:400;color:#000;line-height:20px;z-index:3;transform:scaleX(1.013);">484855</div>
<div class="t" style="left:905.45px;text-align:left;top:803.00px;font-size:15.4px;font-weight:400;color:#000;line-height:20px;z-index:3;transform:scaleX(1.058);transform-origin:0 0;">26-28</div>
<div class="t" style="left:1026.60px;width:145.60px;top:802.00px;font-size:18.09px;font-weight:400;color:#000;line-height:20px;z-index:3;transform:scaleX(1.013);">4327328</div>
<div class="t" style="left:1172.20px;width:158.60px;top:802.00px;font-size:18.09px;font-weight:400;color:#000;line-height:20px;z-index:3;transform:scaleX(1.013);">235007</div>
<div class="t" style="left:1330.80px;width:155.60px;top:802.00px;font-size:18.09px;font-weight:400;color:#000;line-height:20px;z-index:3;transform:scaleX(1.013);">170447</div>
<div class="t" style="left:1486.40px;width:179.60px;top:802.00px;font-size:18.09px;font-weight:400;color:#000;line-height:20px;z-index:3;transform:scaleX(1.013);">381375</div>
<div class="t" style="left:905.45px;text-align:left;top:829.00px;font-size:15.4px;font-weight:400;color:#000;line-height:20px;z-index:3;transform:scaleX(1.058);transform-origin:0 0;">29-35</div>
<div class="t" style="left:1026.60px;width:145.60px;top:828.00px;font-size:18.09px;font-weight:400;color:#000;line-height:20px;z-index:3;transform:scaleX(1.013);">7040194</div>
<div class="t" style="left:1172.20px;width:158.60px;top:828.00px;font-size:18.09px;font-weight:400;color:#000;line-height:20px;z-index:3;transform:scaleX(1.013);">279933</div>
<div class="t" style="left:1330.80px;width:155.60px;top:828.00px;font-size:18.09px;font-weight:400;color:#000;line-height:20px;z-index:3;transform:scaleX(1.013);">199847</div>
<div class="t" style="left:1486.40px;width:179.60px;top:828.00px;font-size:18.09px;font-weight:400;color:#000;line-height:20px;z-index:3;transform:scaleX(1.013);">666280</div>
<div class="t" style="left:905.45px;text-align:left;top:854.00px;font-size:15.4px;font-weight:400;color:#000;line-height:20px;z-index:3;transform:scaleX(1.091);transform-origin:0 0;">More than 35</div>
<div class="t" style="left:1026.60px;width:145.60px;top:853.00px;font-size:18.09px;font-weight:400;color:#000;line-height:20px;z-index:3;transform:scaleX(1.013);">9851009</div>
<div class="t" style="left:1172.20px;width:158.60px;top:853.00px;font-size:18.09px;font-weight:400;color:#000;line-height:20px;z-index:3;transform:scaleX(1.013);">265803</div>
<div class="t" style="left:1330.80px;width:155.60px;top:853.00px;font-size:18.09px;font-weight:400;color:#000;line-height:20px;z-index:3;transform:scaleX(1.013);">186970</div>
<div class="t" style="left:1486.40px;width:179.60px;top:853.00px;font-size:18.09px;font-weight:400;color:#000;line-height:20px;z-index:3;transform:scaleX(1.013);">703003</div>
<div class="t" style="left:905.45px;text-align:left;top:880.00px;font-size:15.2px;font-weight:700;color:#375623;line-height:20px;z-index:3;transform:scaleX(1.030);transform-origin:0 0;">Total</div>
<div class="t" style="left:1026.60px;width:145.60px;top:879.00px;font-size:18.09px;font-weight:400;color:#375623;line-height:20px;z-index:3;transform:scaleX(1.013);">28883873</div>
<div class="t" style="left:1172.20px;width:158.60px;top:879.00px;font-size:18.09px;font-weight:400;color:#375623;line-height:20px;z-index:3;transform:scaleX(1.013);">1478593</div>
<div class="t" style="left:1330.80px;width:155.60px;top:879.00px;font-size:18.09px;font-weight:400;color:#375623;line-height:20px;z-index:3;transform:scaleX(1.013);">1075872</div>
<div class="t" style="left:1486.40px;width:179.60px;top:880.00px;font-size:15.57px;font-weight:700;color:#375623;line-height:20px;z-index:3;transform:scaleX(1.012);">2383587</div>
<div class="r" style="left:878.25px;top:188.60px;width:24.20px;height:21.40px;background:#dde8f4;z-index:1"></div>
<div class="r" style="left:878.25px;top:568.60px;width:24.20px;height:20.20px;background:#dde8f4;z-index:1"></div>
<div class="r" style="left:878.25px;top:513.50px;width:24.20px;height:31.60px;background:#c4dfb2;z-index:1"></div>
<div class="r" style="left:878.25px;top:875.70px;width:24.20px;height:25.50px;background:#c4dfb2;z-index:1"></div>
<div class="r" style="left:1666.00px;top:514.50px;width:3.00px;height:20.60px;background:#c4dfb2;z-index:1"></div>
<div class="r" style="left:1666.00px;top:875.70px;width:4.00px;height:25.50px;background:#c4dfb2;z-index:1"></div>
<div class="t" style="left:560.00px;width:130.00px;top:523.00px;font-size:17.82px;font-weight:400;color:#4a5f3c;line-height:20px;z-index:0;transform:scaleX(1.012);">1206363</div>
<svg class="g" width="1755" height="1240" viewBox="0 0 1755 1240"><rect x="55.05" y="187.75" width="824.05" height="1.70"/><rect x="55.05" y="209.15" width="824.05" height="1.70"/><rect x="55.05" y="336.60" width="824.05" height="1.70"/><rect x="55.05" y="358.25" width="824.05" height="1.70"/><rect x="55.05" y="384.15" width="824.05" height="1.70"/><rect x="55.05" y="409.75" width="824.05" height="1.70"/><rect x="55.05" y="435.45" width="824.05" height="1.70"/><rect x="55.05" y="460.85" width="824.05" height="1.70"/><rect x="55.05" y="486.95" width="824.05" height="1.70"/><rect x="55.05" y="512.65" width="824.05" height="1.70"/><rect x="55.05" y="534.25" width="824.05" height="1.70"/><rect x="55.05" y="187.75" width="1.70" height="348.20"/><rect x="877.40" y="187.75" width="1.70" height="348.20"/><rect x="182.15" y="209.15" width="1.70" height="326.80"/><rect x="343.55" y="209.15" width="1.70" height="326.80"/><rect x="492.05" y="209.15" width="1.70" height="326.80"/><rect x="661.85" y="209.15" width="1.70" height="326.80"/><rect x="901.60" y="187.75" width="765.25" height="1.70"/><rect x="901.60" y="209.15" width="765.25" height="1.70"/><rect x="901.60" y="336.60" width="765.25" height="1.70"/><rect x="901.60" y="358.25" width="765.25" height="1.70"/><rect x="901.60" y="384.15" width="765.25" height="1.70"/><rect x="901.60" y="409.75" width="765.25" height="1.70"/><rect x="901.60" y="435.45" width="765.25" height="1.70"/><rect x="901.60" y="460.85" width="765.25" height="1.70"/><rect x="901.60" y="486.95" width="765.25" height="1.70"/><rect x="901.60" y="512.65" width="765.25" height="1.70"/><rect x="901.60" y="534.25" width="765.25" height="1.70"/><rect x="901.60" y="187.75" width="1.70" height="348.20"/><rect x="1665.15" y="187.75" width="1.70" height="348.20"/><rect x="1025.75" y="209.15" width="1.70" height="326.80"/><rect x="1171.35" y="209.15" width="1.70" height="326.80"/><rect x="1329.95" y="209.15" width="1.70" height="326.80"/><rect x="1485.55" y="209.15" width="1.70" height="326.80"/><rect x="55.05" y="567.75" width="824.05" height="1.70"/><rect x="55.05" y="587.95" width="824.05" height="1.70"/><rect x="55.05" y="696.05" width="824.05" height="1.70"/><rect x="55.05" y="720.55" width="824.05" height="1.70"/><rect x="55.05" y="745.95" width="824.05" height="1.70"/><rect x="55.05" y="772.05" width="824.05" height="1.70"/><rect x="55.05" y="797.65" width="824.05" height="1.70"/><rect x="55.05" y="823.05" width="824.05" height="1.70"/><rect x="55.05" y="849.15" width="824.05" height="1.70"/><rect x="55.05" y="874.85" width="824.05" height="1.70"/><rect x="55.05" y="900.35" width="824.05" height="1.70"/><rect x="55.05" y="567.75" width="1.70" height="334.30"/><rect x="877.40" y="567.75" width="1.70" height="334.30"/><rect x="182.15" y="587.95" width="1.70" height="314.10"/><rect x="343.55" y="587.95" width="1.70" height="314.10"/><rect x="492.05" y="587.95" width="1.70" height="314.10"/><rect x="661.85" y="587.95" width="1.70" height="314.10"/><rect x="901.60" y="567.75" width="765.25" height="1.70"/><rect x="901.60" y="587.95" width="765.25" height="1.70"/><rect x="901.60" y="696.05" width="765.25" height="1.70"/><rect x="901.60" y="720.55" width="765.25" height="1.70"/><rect x="901.60" y="745.95" width="765.25" height="1.70"/><rect x="901.60" y="772.05" width="765.25" height="1.70"/><rect x="901.60" y="797.65" width="765.25" height="1.70"/><rect x="901.60" y="823.05" width="765.25" height="1.70"/><rect x="901.60" y="849.15" width="765.25" height="1.70"/><rect x="901.60" y="874.85" width="765.25" height="1.70"/><rect x="901.60" y="900.35" width="765.25" height="1.70"/><rect x="901.60" y="567.75" width="1.70" height="334.30"/><rect x="1665.15" y="567.75" width="1.70" height="334.30"/><rect x="1025.75" y="587.95" width="1.70" height="314.10"/><rect x="1171.35" y="587.95" width="1.70" height="314.10"/><rect x="1329.95" y="587.95" width="1.70" height="314.10"/><rect x="1485.55" y="587.95" width="1.70" height="314.10"/><rect x="1668.15" y="874.85" width="1.70" height="27.20"/><rect x="1665.15" y="874.85" width="5.20" height="1.70"/><rect x="1665.15" y="900.35" width="5.20" height="1.70"/></svg>
</body></html>
